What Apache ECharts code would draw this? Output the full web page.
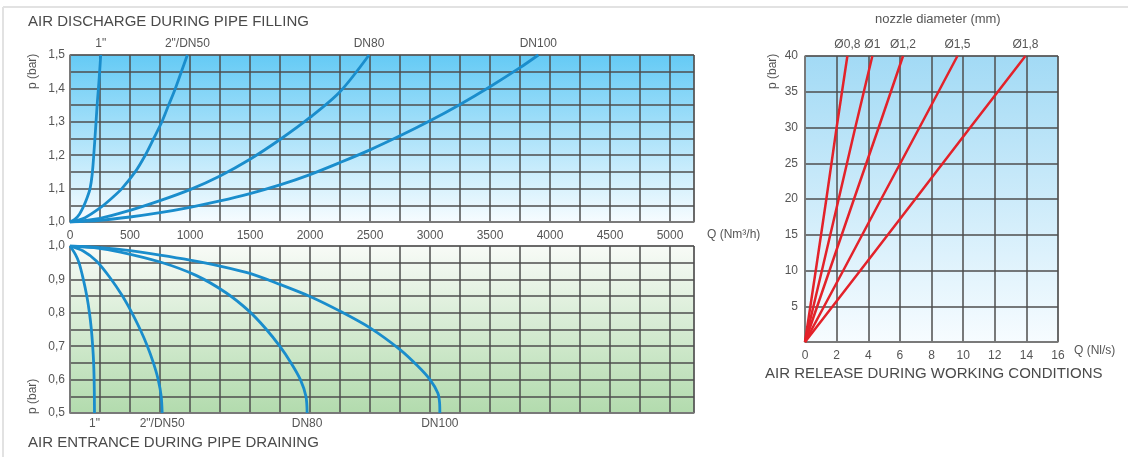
<!DOCTYPE html>
<html>
<head>
<meta charset="utf-8">
<script src="https://cdn.jsdelivr.net/npm/echarts@6/dist/echarts.min.js"></script>
<style>
html,body{margin:0;padding:0;background:#fff;}
#c{width:1128px;height:457px;}
</style>
</head>
<body>
<div id="c"></div>
<script>
// ---- Data: AIR DISCHARGE DURING PIPE FILLING  [Q (Nm3/h), p (bar)]
const fillNames = ['1"', '2"/DN50', 'DN80', 'DN100'];
const fill1in = [[0,1.0],[40,1.008],[80,1.024],[117,1.05],[145,1.075],[167,1.1],[184,1.14],[198,1.2],[217,1.3],[228,1.36],[237,1.4],[247,1.45],[256,1.5]];
const fillDN50 = [[0,1.0],[125,1.013],[250,1.042],[350,1.072],[432,1.1],[543,1.15],[627,1.2],[697,1.25],[766,1.3],[822,1.35],[878,1.4],[928,1.45],[978,1.5]];
const fillDN80 = [[0,1.0],[250,1.011],[500,1.035],[750,1.064],[1000,1.097],[1250,1.138],[1500,1.188],[1750,1.247],[2000,1.313],[2250,1.39],[2492,1.5]];
const fillDN100 = [[0,1.0],[250,1.005],[500,1.015],[750,1.028],[1000,1.044],[1250,1.063],[1500,1.085],[1750,1.111],[2000,1.142],[2250,1.178],[2500,1.216],[2750,1.258],[3000,1.303],[3250,1.352],[3500,1.405],[3750,1.462],[3903,1.5]];

// ---- Data: AIR ENTRANCE DURING PIPE DRAINING  [Q (Nm3/h), p (bar)]
const drainNames = ['1"', '2"/DN50', 'DN80', 'DN100'];
const drain1in = [[0,1.0],[45,0.975],[75,0.95],[111,0.9],[140,0.85],[162,0.8],[178,0.75],[189,0.7],[197,0.65],[201,0.6],[203,0.55],[204,0.5]];
const drainDN50 = [[0,1.0],[110,0.985],[220,0.955],[334,0.905],[432,0.853],[516,0.8],[585,0.75],[645,0.7],[695,0.65],[735,0.6],[760,0.55],[768,0.5]];
const drainDN80 = [[0,1.0],[200,0.995],[420,0.982],[752,0.952],[1050,0.912],[1300,0.86],[1492,0.805],[1630,0.753],[1748,0.7],[1842,0.65],[1920,0.6],[1966,0.55],[1976,0.5]];
const drainDN100 = [[0,1.0],[250,0.995],[500,0.986],[750,0.973],[1000,0.958],[1250,0.94],[1500,0.918],[1750,0.885],[2000,0.849],[2250,0.805],[2500,0.755],[2750,0.69],[2900,0.64],[3000,0.6],[3065,0.56],[3080,0.53],[3082,0.5]];

// ---- Data: AIR RELEASE DURING WORKING CONDITIONS  [Q (Nl/s), p (bar)]
const nozzleNames = ['Ø0,8', 'Ø1', 'Ø1,2', 'Ø1,5', 'Ø1,8'];
const rel08 = [[0,0],[0.68,10],[1.35,20],[2.0,30],[2.68,40]];
const rel10 = [[0,0],[1.07,10],[2.13,20],[3.18,30],[4.26,40]];
const rel12 = [[0,0],[1.55,10],[3.1,20],[4.66,30],[6.2,40]];
const rel15 = [[0,0],[2.42,10],[4.82,20],[7.24,30],[9.64,40]];
const rel18 = [[0,0],[3.5,10],[6.98,20],[10.45,30],[13.94,40]];

// ---- Tick labels
const qTicks = [0,500,1000,1500,2000,2500,3000,3500,4000,4500,5000];
const pTop = [1.0,1.1,1.2,1.3,1.4,1.5];
const pBottom = [0.5,0.6,0.7,0.8,0.9,1.0];

const FONT = '"Liberation Sans", Arial, Helvetica, sans-serif';
const TXT = '#555';
const GRIDC = '#4e4e4e';

function withEndLabel(data, text, pos) {
  return data.map((d, i) => i === data.length - 1
    ? { value: d, label: { show: true, position: pos, distance: 5, formatter: text, color: TXT, fontSize: 12, fontFamily: FONT, opacity: 1 } }
    : { value: d });
}
function fmtComma(v, list) {
  const hit = list.find(t => Math.abs(t - v) < 1e-6);
  return hit === undefined ? '' : hit.toFixed(1).replace('.', ',');
}
function grad(c1, c2) {
  return { type: 'linear', x: 0, y: 0, x2: 0, y2: 1, colorStops: [{ offset: 0, color: c1 }, { offset: 1, color: c2 }] };
}
const splitL = { show: true, lineStyle: { color: GRIDC, width: 1.5 } };
const axLine = { show: true, lineStyle: { color: '#808080', width: 1.5 } };

const chart = echarts.init(document.getElementById('c'), null, { renderer: 'canvas' });

const blueLine = { color: '#1a8dcc', width: 2.8 };
const redLine = { color: '#e3222a', width: 2.5 };

function lineSeries(data, name, xi, yi, style, pos, smooth) {
  return {
    type: 'line', xAxisIndex: xi, yAxisIndex: yi, data: withEndLabel(data, name, pos),
    smooth: smooth, showSymbol: true, showAllSymbol: true, symbol: 'circle', symbolSize: 0.1,
    itemStyle: { color: 'rgba(0,0,0,0)', borderWidth: 0 }, lineStyle: style, silent: true, z: 5,
    labelLayout: { hideOverlap: false }
  };
}

const option = {
  animation: false,
  textStyle: { fontFamily: FONT },
  grid: [
    { left: 70, top: 55, width: 624, height: 167, show: true, backgroundColor: grad('#64caf5', '#f7fcff'), borderColor: '#808080', borderWidth: 1 },
    { left: 70, top: 246, width: 624, height: 167, show: true, backgroundColor: grad('#f8fbf7', '#b2dbad'), borderColor: '#808080', borderWidth: 1 },
    { left: 805, top: 56, width: 253, height: 286, show: true, backgroundColor: grad('#a2daf5', '#f7fcff'), borderColor: '#808080', borderWidth: 1 }
  ],
  xAxis: [
    { gridIndex: 0, type: 'value', min: 0, max: 5200, interval: 250, axisLine: axLine, axisTick: { show: false }, splitLine: splitL,
      axisLabel: { color: TXT, fontSize: 12, margin: 8, showMaxLabel: false, formatter: v => qTicks.indexOf(Math.round(v)) >= 0 && Math.abs(v - Math.round(v)) < 1e-6 ? String(Math.round(v)) : '' } },
    { gridIndex: 1, type: 'value', min: 0, max: 5200, interval: 250, axisLine: axLine, axisTick: { show: false }, splitLine: splitL, axisLabel: { show: false } },
    { gridIndex: 2, type: 'value', min: 0, max: 16, interval: 2, axisLine: axLine, axisTick: { show: false }, splitLine: splitL,
      axisLabel: { color: TXT, fontSize: 12, margin: 8 } }
  ],
  yAxis: [
    { gridIndex: 0, type: 'value', min: 1.0, max: 1.5, interval: 0.05, axisLine: axLine, axisTick: { show: false }, splitLine: splitL,
      axisLabel: { color: TXT, fontSize: 12, margin: 5, formatter: v => fmtComma(v, pTop) } },
    { gridIndex: 1, type: 'value', min: 0.5, max: 1.0, interval: 0.05, axisLine: axLine, axisTick: { show: false }, splitLine: splitL,
      axisLabel: { color: TXT, fontSize: 12, margin: 5, formatter: v => fmtComma(v, pBottom) } },
    { gridIndex: 2, type: 'value', min: 0, max: 40, interval: 5, axisLine: axLine, axisTick: { show: false }, splitLine: splitL,
      axisLabel: { color: TXT, fontSize: 12, margin: 7, formatter: v => v === 0 ? '' : String(v) } }
  ],
  series: [
    lineSeries(fill1in, fillNames[0], 0, 0, blueLine, 'top', 0.3),
    lineSeries(fillDN50, fillNames[1], 0, 0, blueLine, 'top', 0.3),
    lineSeries(fillDN80, fillNames[2], 0, 0, blueLine, 'top', 0.3),
    lineSeries(fillDN100, fillNames[3], 0, 0, blueLine, 'top', 0.3),
    lineSeries(drain1in, drainNames[0], 1, 1, blueLine, 'bottom', 0.3),
    lineSeries(drainDN50, drainNames[1], 1, 1, blueLine, 'bottom', 0.3),
    lineSeries(drainDN80, drainNames[2], 1, 1, blueLine, 'bottom', 0.3),
    lineSeries(drainDN100, drainNames[3], 1, 1, blueLine, 'bottom', 0.3),
    lineSeries(rel08, nozzleNames[0], 2, 2, redLine, 'top', false),
    lineSeries(rel10, nozzleNames[1], 2, 2, redLine, 'top', false),
    lineSeries(rel12, nozzleNames[2], 2, 2, redLine, 'top', false),
    lineSeries(rel15, nozzleNames[3], 2, 2, redLine, 'top', false),
    lineSeries(rel18, nozzleNames[4], 2, 2, redLine, 'top', false)
  ],
  graphic: [
    { type: 'line', shape: { x1: 3, y1: 7, x2: 1128, y2: 7 }, style: { stroke: '#e2e2e2', lineWidth: 2 } },
    { type: 'line', shape: { x1: 3, y1: 7, x2: 3, y2: 457 }, style: { stroke: '#e2e2e2', lineWidth: 2 } },
    { type: 'text', left: 28, top: 14, style: { text: 'AIR DISCHARGE DURING PIPE FILLING', fill: '#4a4a4a', font: '15px ' + FONT } },
    { type: 'text', left: 28, top: 435, style: { text: 'AIR ENTRANCE DURING PIPE DRAINING', fill: '#4a4a4a', font: '15px ' + FONT } },
    { type: 'text', left: 765, top: 366, style: { text: 'AIR RELEASE DURING WORKING CONDITIONS', fill: '#4a4a4a', font: '15px ' + FONT } },
    { type: 'text', left: 875, top: 13, style: { text: 'nozzle diameter (mm)', fill: TXT, font: '13px ' + FONT } },
    { type: 'text', left: 707, top: 229, style: { text: 'Q (Nm³/h)', fill: TXT, font: '12px ' + FONT } },
    { type: 'text', left: 1074, top: 345, style: { text: 'Q (Nl/s)', fill: TXT, font: '12px ' + FONT } },
    { type: 'text', x: 27, y: 89, rotation: Math.PI / 2, style: { text: 'p (bar)', fill: TXT, font: '12px ' + FONT } },
    { type: 'text', x: 27, y: 414, rotation: Math.PI / 2, style: { text: 'p (bar)', fill: TXT, font: '12px ' + FONT } },
    { type: 'text', x: 767, y: 89, rotation: Math.PI / 2, style: { text: 'p (bar)', fill: TXT, font: '12px ' + FONT } }
  ]
};
chart.setOption(option);
</script>
</body>
</html>
